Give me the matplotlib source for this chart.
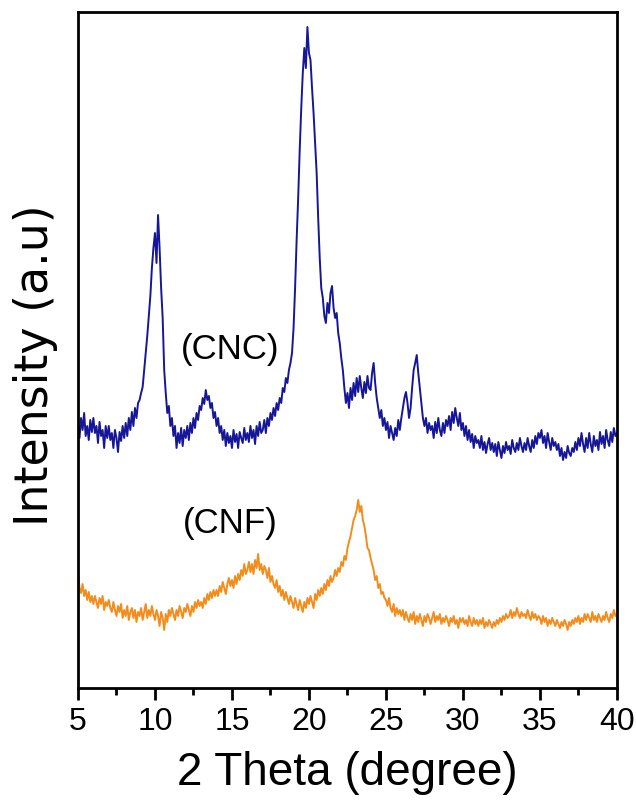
import matplotlib
matplotlib.use("Agg")
import matplotlib.pyplot as plt
import numpy as np
from matplotlib.ticker import MultipleLocator

plt.rcParams['font.family'] = ['Liberation Sans', 'DejaVu Sans']

# 2 theta from 5 to 40 deg, one reading every 0.1 deg
two_theta = np.round(np.arange(5.0, 40.05, 0.1), 1)

# intensity (arbitrary units), rows are 1 degree each
cnc = [
    265, 250, 270, 258, 275, 252, 262, 248, 268, 256,   # 5
    270, 255, 262, 245, 266, 252, 258, 240, 262, 250,   # 6
    262, 248, 255, 240, 258, 250, 236, 256, 247, 262,   # 7
    250, 265, 252, 270, 258, 276, 262, 280, 270, 285,   # 8
    288, 295, 301, 318, 335, 352, 372, 392, 420, 440,   # 9
    455, 425, 473, 440, 400, 370, 318, 295, 275, 282,   # 10
    262, 270, 252, 262, 240, 255, 245, 260, 242, 258,   # 11
    250, 262, 248, 265, 255, 270, 260, 275, 268, 282,   # 12
    278, 290, 284, 298, 288, 292, 280, 285, 270, 276,   # 13
    262, 270, 255, 262, 248, 258, 242, 255, 245, 252,   # 14
    240, 258, 246, 254, 240, 256, 250, 245, 260, 248,   # 15
    255, 246, 262, 250, 258, 244, 262, 252, 266, 255,   # 16
    258, 268, 255, 270, 262, 275, 268, 280, 272, 285,   # 17
    278, 290, 285, 300, 296, 310, 305, 318, 325, 335,   # 18
    360, 400, 448, 490, 538, 580, 615, 640, 620, 661,   # 19
    635, 628, 600, 575, 545, 515, 470, 430, 400, 390,   # 20
    372, 365, 385, 375, 395, 402, 380, 370, 375, 355,   # 21
    345, 330, 318, 300, 285, 295, 280, 300, 288, 305,   # 22
    292, 310, 296, 312, 300, 290, 306, 295, 312, 300,   # 23
    298, 315, 325, 305, 290, 280, 270, 278, 262, 270,   # 24
    258, 266, 250, 262, 255, 248, 260, 252, 268, 258,   # 25
    270, 280, 290, 296, 285, 270, 280, 300, 318, 325,   # 26
    333, 315, 300, 285, 270, 262, 270, 255, 265, 258,   # 27
    262, 250, 266, 255, 270, 258, 252, 265, 255, 268,   # 28
    262, 272, 258, 276, 265, 280, 270, 262, 275, 258,   # 29
    265, 252, 262, 248, 258, 246, 254, 240, 252, 245,   # 30
    248, 240, 252, 238, 246, 235, 244, 250, 238, 245,   # 31
    236, 244, 232, 246, 238, 230, 242, 235, 246, 238,   # 32
    242, 234, 248, 240, 236, 245, 238, 250, 242, 236,   # 33
    245, 238, 250, 242, 236, 248, 240, 252, 244, 255,   # 34
    250, 258, 245, 252, 240, 255, 246, 238, 250, 242,   # 35
    246, 238, 244, 232, 240, 228, 236, 230, 242, 235,   # 36
    232, 240, 236, 246, 238, 250, 242, 255, 244, 236,   # 37
    250, 240, 255, 244, 236, 252, 242, 248, 238, 256,   # 38
    244, 252, 240, 258, 248, 242, 256, 246, 260, 252,   # 39
    255,
]

cnf = [
    118, 100, 95, 104, 92, 98, 88, 96, 86, 92,          # 5
    84, 92, 86, 80, 90, 84, 92, 78, 86, 82,             # 6
    88, 80, 76, 86, 78, 72, 82, 76, 84, 70,             # 7
    78, 72, 82, 68, 76, 80, 70, 78, 66, 76,             # 8
    72, 80, 68, 76, 84, 70, 78, 72, 82, 74,             # 9
    68, 78, 72, 62, 76, 70, 58, 74, 66, 78,             # 10
    72, 80, 74, 68, 78, 72, 82, 76, 70, 80,             # 11
    76, 84, 78, 72, 82, 76, 86, 80, 88, 82,             # 12
    86, 80, 90, 84, 94, 88, 96, 90, 98, 92,             # 13
    98, 92, 102, 96, 106, 100, 94, 104, 110, 102,       # 14
    108, 100, 112, 104, 114, 108, 118, 112, 124, 114,   # 15
    118, 126, 116, 124, 114, 128, 120, 134, 118, 124,   # 16
    114, 122, 118, 110, 120, 106, 112, 104, 100, 108,   # 17
    96, 102, 92, 98, 88, 96, 90, 84, 92, 86,            # 18
    80, 90, 84, 78, 88, 82, 76, 86, 80, 90,             # 19
    84, 92, 86, 80, 94, 88, 98, 92, 100, 94,            # 20
    104, 98, 108, 102, 112, 106, 110, 118, 112, 120,    # 21
    116, 126, 122, 132, 128, 140, 146, 152, 160, 168,   # 22
    172, 178, 188, 176, 182, 168, 162, 152, 140, 138,   # 23
    130, 124, 118, 108, 112, 100, 104, 94, 96, 90,      # 24
    88, 82, 90, 80, 76, 84, 72, 80, 74, 78,             # 25
    72, 78, 68, 76, 70, 66, 74, 68, 76, 64,             # 26
    72, 66, 74, 68, 62, 72, 66, 74, 70, 64,             # 27
    70, 76, 66, 72, 68, 74, 64, 70, 66, 72,             # 28
    68, 62, 70, 66, 72, 64, 68, 60, 70, 66,             # 29
    70, 64, 68, 62, 72, 66, 62, 70, 64, 68,             # 30
    62, 68, 64, 70, 60, 66, 62, 68, 64, 60,             # 31
    66, 62, 68, 64, 70, 66, 72, 68, 74, 70,             # 32
    72, 78, 70, 76, 72, 80, 74, 70, 76, 72,             # 33
    74, 70, 78, 72, 68, 76, 70, 74, 68, 72,             # 34
    70, 64, 72, 66, 70, 62, 68, 64, 70, 66,             # 35
    62, 68, 64, 60, 66, 62, 68, 64, 58, 66,             # 36
    62, 68, 64, 70, 66, 72, 64, 70, 66, 74,             # 37
    68, 74, 70, 66, 76, 68, 72, 66, 74, 70,             # 38
    66, 72, 68, 76, 70, 66, 74, 70, 78, 72,             # 39
    74,
]

fig = plt.figure(figsize=(6.36, 8.01), dpi=100)
ax = fig.add_axes([0.1226, 0.1411, 0.8474, 0.8439])

ax.plot(two_theta, cnc, color='#161698', lw=1.4)
ax.plot(two_theta, cnf, color='#f48c1c', lw=1.4)

ax.text(14.9, 338, '(CNC)', fontsize=25, ha='center', va='center')
ax.text(14.9, 164, '(CNF)', fontsize=25, ha='center', va='center')

ax.set_xlim(5, 40)
ax.set_ylim(0, 676)
ax.xaxis.set_major_locator(MultipleLocator(5))
ax.xaxis.set_minor_locator(MultipleLocator(2.5))
ax.set_yticks([])
ax.tick_params(axis='x', which='major', direction='out', length=8.5, width=2,
               labelsize=23, pad=5)
ax.tick_params(axis='x', which='minor', direction='out', length=5, width=2)
for s in ax.spines.values():
    s.set_linewidth(2)

ax.set_xlabel('2 Theta (degree)', fontsize=33, labelpad=10)
ax.set_ylabel('Intensity (a.u)', fontsize=33, family=['DejaVu Sans'])
ax.yaxis.set_label_coords(-0.037, 0.478)

plt.savefig('out.png', dpi=100)
